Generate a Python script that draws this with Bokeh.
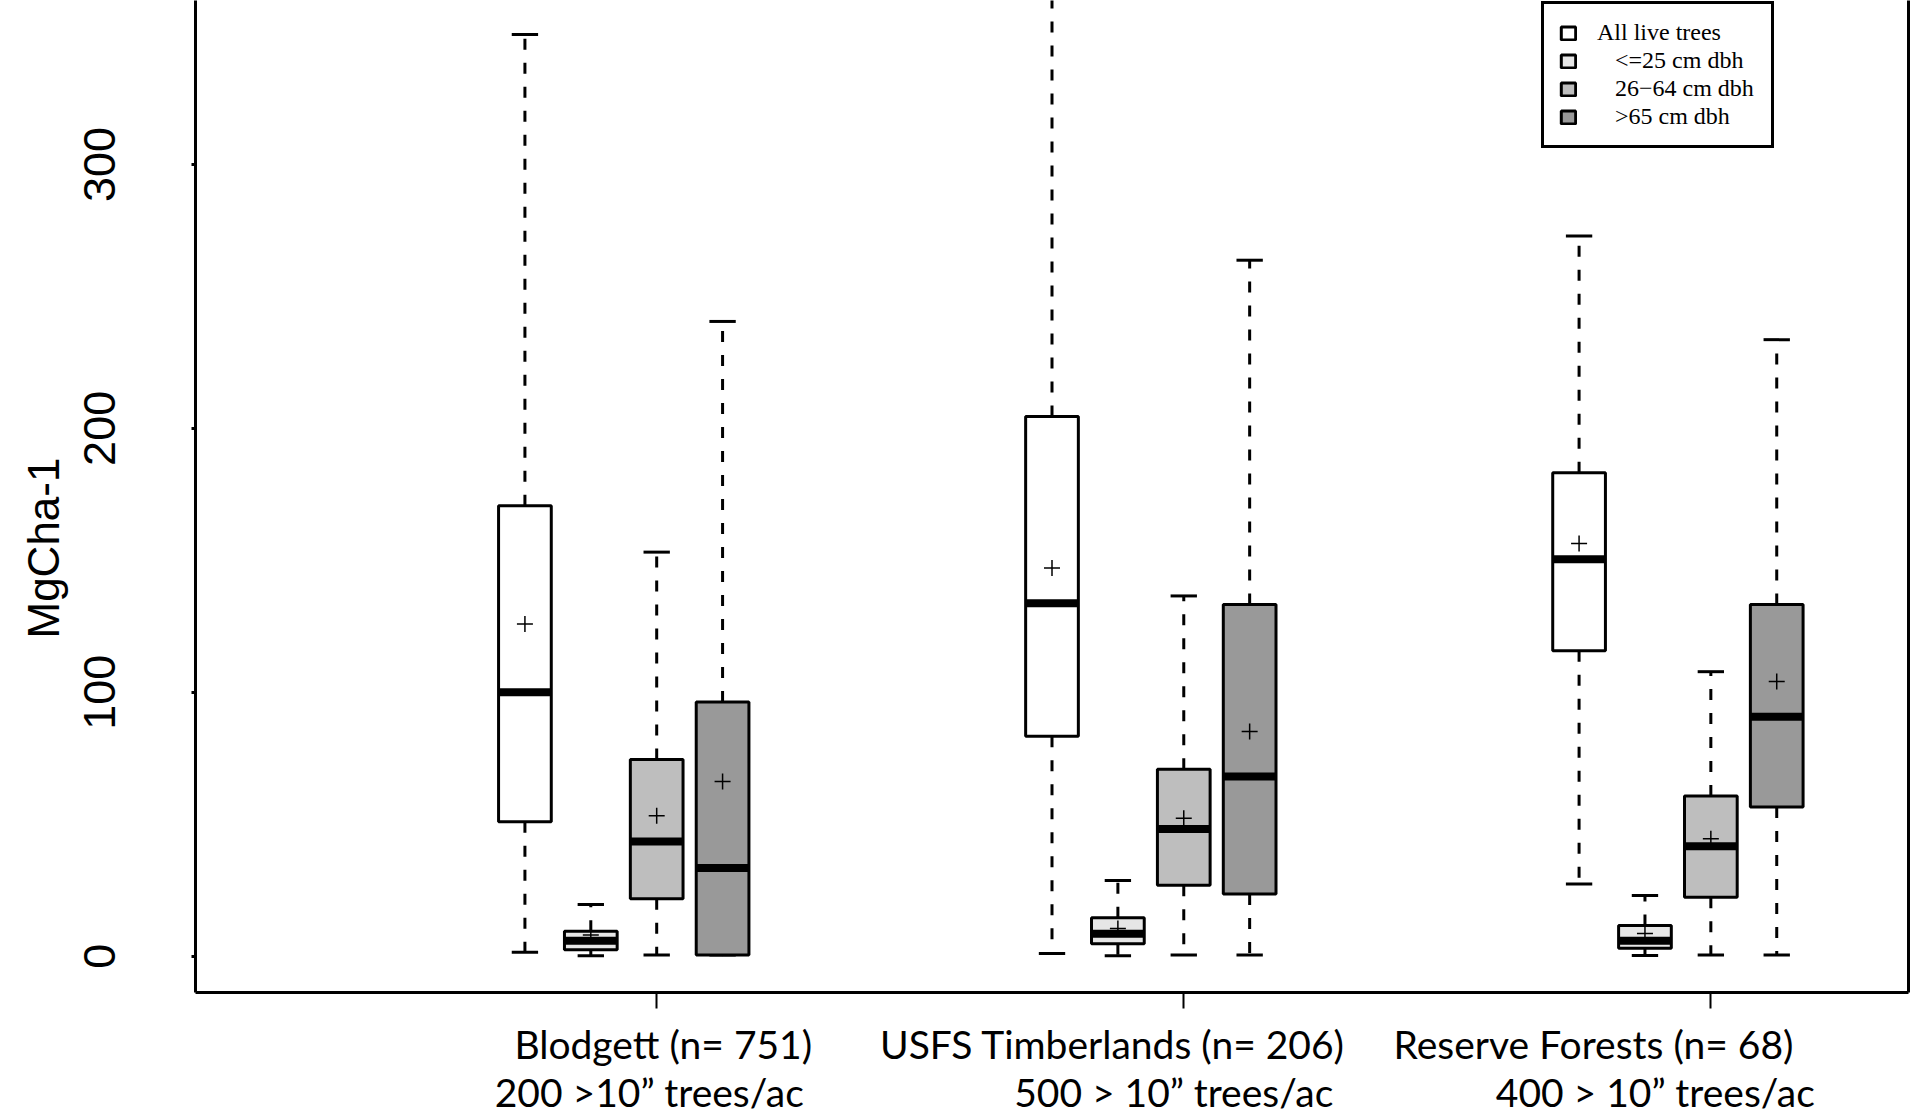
import math
from bokeh.plotting import figure
from bokeh.models import Range1d, FixedTicker, LinearAxis, Legend, LegendItem, Title
from bokeh.embed import file_html
from bokeh.resources import INLINE

# --- data: aboveground live-tree carbon (MgC ha-1) by forest type and size class ---
groups = ["Blodgett (n= 751)", "USFS Timberlands (n= 206)", "Reserve Forests (n= 68)"]
densities = ["200 >10\u201d trees/ac", "500 > 10\u201d trees/ac", "400 > 10\u201d trees/ac"]
classes = ["All live trees", "\u00a0\u00a0\u00a0<=25 cm dbh", "\u00a0\u00a0\u00a026\u221264 cm dbh", "\u00a0\u00a0\u00a0>65 cm dbh"]
class_colors = ["#ffffff", "#e6e6e6", "#bebebe", "#999999"]

# statistics, ordered group by group, size class within group
whisker_low = [1.5, 0.2, 0.5, 0.5,   1.0, 0.2, 0.5, 0.5,   27.4, 0.3, 0.5, 0.5]
q1          = [50.9, 2.4, 21.8, 0.5,  83.3, 4.7, 26.9, 23.6,  115.7, 3.0, 22.3, 56.5]
median      = [100.0, 5.9, 43.5, 33.4,  133.7, 8.5, 48.2, 68.1,  150.4, 5.9, 41.7, 90.7]
q3          = [170.7, 9.5, 74.5, 96.3,  204.5, 14.6, 70.8, 133.3,  183.2, 11.6, 60.7, 133.3]
whisker_high = [349.2, 19.6, 153.1, 240.5,  395.0, 28.7, 136.5, 263.7,  272.9, 23.0, 107.8, 233.6]
mean        = [125.9, 8.0, 53.2, 66.2,  147.1, 10.5, 52.3, 85.1,  156.4, 8.6, 44.5, 104.1]

# box positions: four classes side by side, groups eight slots apart
n_cls = len(classes)
pos = [g * 8 + c + 1 for g in range(len(groups)) for c in range(n_cls)]
group_ticks = [g * 8 + 3 for g in range(len(groups))]
# where each line of the two-line group captions is centred along x
name_at = [3.1, 9.92, 17.22]
dens_at = [2.89, 10.85, 18.16]
BOX_W = 0.8
CAP_W = 0.4

Y0, Y1 = -13.75, 362.1

p = figure(width=1913, height=1119, x_range=Range1d(-4, 22), y_range=Range1d(Y0, Y1),
           output_backend="svg", toolbar_location=None,
           min_border_left=195, min_border_right=5, min_border_top=0, min_border_bottom=127)
p.outline_line_color = None
p.grid.visible = False
p.background_fill_color = "white"
p.border_fill_color = "white"

# whiskers (dashed) and caps
p.segment(x0=pos, y0=q3, x1=pos, y1=whisker_high, line_color="black", line_width=3, line_dash="11 13")
p.segment(x0=pos, y0=q1, x1=pos, y1=whisker_low, line_color="black", line_width=3, line_dash="11 13")
p.segment(x0=[x - CAP_W / 2 for x in pos], y0=whisker_high, x1=[x + CAP_W / 2 for x in pos], y1=whisker_high,
          line_color="black", line_width=3)
p.segment(x0=[x - CAP_W / 2 for x in pos], y0=whisker_low, x1=[x + CAP_W / 2 for x in pos], y1=whisker_low,
          line_color="black", line_width=3)

# boxes, one renderer per size class for the legend
box_renderers = []
for c in range(n_cls):
    idx = [g * n_cls + c for g in range(len(groups))]
    r = p.vbar(x=[pos[i] for i in idx], width=BOX_W, bottom=[q1[i] for i in idx], top=[q3[i] for i in idx],
               fill_color=class_colors[c], line_color="black", line_width=3)
    box_renderers.append(r)

# medians and means
p.segment(x0=[x - BOX_W / 2 for x in pos], y0=median, x1=[x + BOX_W / 2 for x in pos], y1=median,
          line_color="black", line_width=8, line_cap="butt")
p.scatter(x=pos, y=mean, marker="cross", size=16, line_color="black", line_width=1.5)

# y axis
ya = p.yaxis[0]
ya.ticker = FixedTicker(ticks=[0, 100, 200, 300])
ya.major_label_orientation = "vertical"
ya.major_label_text_font = "Liberation Sans"
ya.major_label_text_font_size = "45px"
ya.major_label_text_color = "black"
ya.major_label_standoff = 76
ya.axis_line_width = 3
ya.axis_line_color = "black"
ya.major_tick_out = 4
ya.major_tick_in = 0
ya.major_tick_line_width = 3
ya.minor_tick_out = 0
ya.minor_tick_in = 0

p.add_layout(Title(text="MgCha-1", align="left", vertical_align="top", offset=354, standoff=24,
                   text_font="Liberation Sans", text_font_size="44px", text_font_style="normal",
                   text_color="black"), "left")

# x axis: group ticks only
xa = p.xaxis[0]
xa.ticker = FixedTicker(ticks=group_ticks)
xa.major_label_overrides = {t: "" for t in group_ticks}
xa.major_label_standoff = 0
xa.axis_line_width = 3
xa.axis_line_color = "black"
xa.major_tick_out = 16
xa.major_tick_in = 0
xa.major_tick_line_width = 2
xa.minor_tick_out = 0
xa.minor_tick_in = 0


def caption_axis(ticks, texts, standoff):
    ax = LinearAxis(ticker=FixedTicker(ticks=ticks),
                    major_label_overrides={t: s for t, s in zip(ticks, texts)},
                    major_label_text_font="Lato", major_label_text_font_size="39px",
                    major_label_text_baseline="top",
                    major_label_text_color="black", major_label_standoff=standoff,
                    axis_line_color=None, major_tick_out=0, major_tick_in=0,
                    minor_tick_out=0, minor_tick_in=0)
    p.add_layout(ax, "below")


caption_axis(name_at, groups, 12)
caption_axis(dens_at, densities, -1)

# right-hand frame edge
ra = LinearAxis(ticker=FixedTicker(ticks=[]), major_label_text_font_size="0px",
                major_tick_out=0, major_tick_in=0, minor_tick_out=0, minor_tick_in=0,
                axis_line_width=3, axis_line_color="black")
p.add_layout(ra, "right")

legend = Legend(items=[LegendItem(label=classes[c], renderers=[box_renderers[c]]) for c in range(n_cls)],
                location=(1346, 844), margin=0, padding=15, spacing=1,
                glyph_width=18, glyph_height=16, label_height=27, label_width=159, label_standoff=20,
                label_text_font="Liberation Serif", label_text_font_size="24px", label_text_color="black",
                border_line_color="black", border_line_width=3, border_line_alpha=1.0,
                background_fill_color="white", background_fill_alpha=1.0)
p.add_layout(legend)

open("out.html", "w").write(file_html(p, INLINE))
